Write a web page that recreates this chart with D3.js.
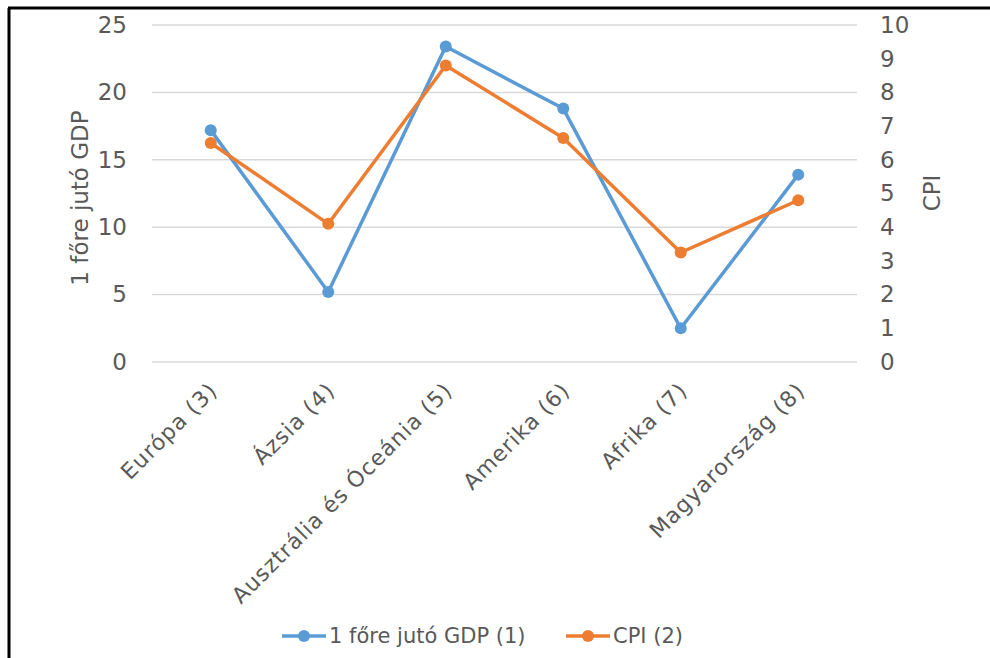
<!DOCTYPE html>
<html><head><meta charset="utf-8">
<script src="https://cdn.jsdelivr.net/npm/d3@7"></script>
<style>body{margin:0;background:#fff}svg{display:block}text{font-family:"DejaVu Sans",sans-serif;fill:#595959}</style>
</head><body>
<svg id="c" width="990" height="658"></svg>
<script>
const categories = ["Európa (3)","Ázsia (4)","Ausztrália és Óceánia (5)","Amerika (6)","Afrika (7)","Magyarország (8)"];
const gdpValues = [17.2, 5.2, 23.4, 18.8, 2.5, 13.9];
const cpiValues = [6.5, 4.1, 8.8, 6.65, 3.25, 4.8];
const leftTicks = [0,5,10,15,20,25];
const rightTicks = [0,1,2,3,4,5,6,7,8,9,10];
const seriesNames = ["1 főre jutó GDP (1)", "CPI (2)"];
const colors = ["#5b9bd5", "#ed7d31"];

const svg = d3.select("#c");
svg.append("rect").attr("x",0).attr("y",0).attr("width",990).attr("height",658).attr("fill","#fff");
// frame
svg.append("line").attr("x1",9).attr("x2",9).attr("y1",8).attr("y2",658).attr("stroke","#000").attr("stroke-width",3);
svg.append("line").attr("x1",8).attr("x2",990).attr("y1",8).attr("y2",8).attr("stroke","#000").attr("stroke-width",3);

const x0 = 152, x1 = 857, yTop = 25, yBot = 362;
const x = d3.scaleBand().domain(categories).range([x0,x1]);
const yL = d3.scaleLinear().domain([0,25]).range([yBot,yTop]);
const yR = d3.scaleLinear().domain([0,10]).range([yBot,yTop]);

// gridlines
svg.append("g").selectAll("line").data(leftTicks).join("line")
  .attr("x1",x0).attr("x2",x1).attr("y1",d=>yL(d)).attr("y2",d=>yL(d))
  .attr("stroke","#d9d9d9").attr("stroke-width",1.5);

const tickFont = "23px";
// left axis
const gl = svg.append("g").attr("transform",`translate(${x0},0)`)
  .call(d3.axisLeft(yL).tickValues(leftTicks).tickSize(0).tickPadding(25));
gl.select(".domain").remove();
gl.selectAll("text").style("font-size",tickFont).attr("fill","#595959").style("font-family","'DejaVu Sans',sans-serif");

// right axis
const gr = svg.append("g").attr("transform",`translate(${x1},0)`)
  .call(d3.axisRight(yR).tickValues(rightTicks).tickSize(0).tickPadding(23));
gr.select(".domain").remove();
gr.selectAll("text").style("font-size",tickFont).attr("fill","#595959").style("font-family","'DejaVu Sans',sans-serif");

// x labels
svg.append("g").selectAll("text").data(categories).join("text")
  .attr("transform",d=>`translate(${x(d)+x.bandwidth()/2+8},${392}) rotate(-45)`)
  .attr("text-anchor","end").style("font-size","22px").style("letter-spacing","1px").text(d=>d);

// axis titles
svg.append("text").attr("transform","translate(88,198) rotate(-90)").attr("text-anchor","middle")
  .style("font-size","23px").text("1 főre jutó GDP");
svg.append("text").attr("transform","translate(940,193) rotate(-90)").attr("text-anchor","middle")
  .style("font-size","23px").text("CPI");

// series
const cx = d=>x(d)+x.bandwidth()/2;
const series = [
  {vals:gdpValues, y:yL, c:colors[0]},
  {vals:cpiValues, y:yR, c:colors[1]}
];
series.forEach(s=>{
  const pts = categories.map((c,i)=>[cx(c), s.y(s.vals[i])]);
  svg.append("path").attr("d",d3.line()(pts)).attr("fill","none").attr("stroke",s.c).attr("stroke-width",3.5).attr("stroke-linejoin","round");
  svg.append("g").selectAll("circle").data(pts).join("circle")
    .attr("cx",d=>d[0]).attr("cy",d=>d[1]).attr("r",6).attr("fill",s.c);
});

// legend
const leg = [{x:282, name:seriesNames[0], c:colors[0]},{x:566, name:seriesNames[1], c:colors[1]}];
const ly = 636;
leg.forEach(l=>{
  svg.append("line").attr("x1",l.x).attr("x2",l.x+44).attr("y1",ly).attr("y2",ly).attr("stroke",l.c).attr("stroke-width",3.5);
  svg.append("circle").attr("cx",l.x+22).attr("cy",ly).attr("r",6).attr("fill",l.c);
  svg.append("text").attr("x",l.x+47).attr("y",ly).attr("dy","0.35em").style("font-size","21px").text(l.name);
});
</script>
</body></html>
